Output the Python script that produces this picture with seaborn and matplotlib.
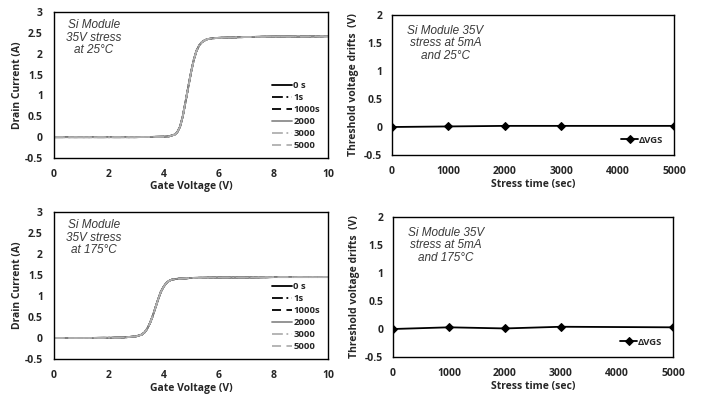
import numpy as np
import pandas as pd
import seaborn as sns
import matplotlib
matplotlib.use("Agg")
import matplotlib.pyplot as plt

sns.set_theme(style="white")
plt.rcParams['font.family'] = ['Open Sans', 'DejaVu Sans']

# ---- data ----
vg = [0, 1, 2, 3, 4, 4.2, 4.4, 4.5, 4.6, 4.7, 4.8, 4.9, 5.0, 5.1, 5.2, 5.3, 5.4, 5.5, 5.6, 5.8, 6.0, 7.0, 8.0, 9.0, 10.0]
id_25 = [0, 0, 0, 0, 0.01, 0.02, 0.06, 0.12, 0.25, 0.5, 0.85, 1.2, 1.55, 1.85, 2.07, 2.2, 2.28, 2.32, 2.35, 2.37, 2.38, 2.40, 2.41, 2.41, 2.42]
vg_175 = [0, 1, 2, 2.5, 3.0, 3.2, 3.3, 3.4, 3.5, 3.6, 3.7, 3.8, 3.9, 4.0, 4.1, 4.2, 4.3, 4.5, 4.8, 5.0, 6.0, 7.0, 8.0, 9.0, 10.0]
id_175 = [0, 0, 0.005, 0.01, 0.04, 0.08, 0.13, 0.22, 0.35, 0.52, 0.72, 0.92, 1.1, 1.22, 1.31, 1.36, 1.39, 1.41, 1.42, 1.43, 1.44, 1.44, 1.45, 1.45, 1.45]
series_labels = ['0 s', '1s', '1000s', '2000', '3000', '5000']

stress_t = [0, 1000, 2000, 3000, 5000]
dvgs_25 = [0, 0.01, 0.02, 0.02, 0.02]
dvgs_175 = [0, 0.03, 0.01, 0.04, 0.03]

styles = [
    dict(color='black', ls='-', lw=1.3),
    dict(color='black', ls=(0, (6, 2, 1, 2)), lw=1.3),
    dict(color='black', ls=(0, (5, 3)), lw=1.3),
    dict(color='#8c8c8c', ls='-', lw=1.3),
    dict(color='#b0b0b0', ls=(0, (6, 2, 1, 2)), lw=1.3),
    dict(color='#b0b0b0', ls=(0, (5, 3)), lw=1.3),
]

fig = plt.figure(figsize=(7.02, 3.99), dpi=100)
W, H = 702, 399

def add_ax(l, t, r, b):
    return fig.add_axes([l / W, 1 - b / H, (r - l) / W, (b - t) / H])

ax1 = add_ax(54, 12, 328, 158)
ax2 = add_ax(392, 15, 674, 155)
ax3 = add_ax(54, 212, 328, 359)
ax4 = add_ax(393, 217, 673, 357)

tick_fs = 7.5
lab_fs = 7.5
note_fs = 8.5

def style_ax(ax, ypad):
    for s in ax.spines.values():
        s.set_color('black')
        s.set_linewidth(1.0)
    ax.tick_params(axis='x', direction='in', length=3, width=1, color='black', labelsize=tick_fs, pad=8)
    ax.tick_params(axis='y', length=0, labelsize=tick_fs, pad=ypad)
    for lbl in ax.get_xticklabels() + ax.get_yticklabels():
        lbl.set_fontweight('bold')

def iv_panel(ax, x, y, note):
    df = pd.DataFrame({'Vg': x, 'Id': y})
    for lab, st in zip(series_labels, styles):
        sns.lineplot(data=df, x='Vg', y='Id', ax=ax, label=lab, color=st['color'],
                     linestyle=st['ls'], linewidth=st['lw'])
    ax.set_xlim(0, 10)
    ax.set_ylim(-0.5, 3)
    ax.set_xticks([0, 2, 4, 6, 8, 10])
    ax.set_yticks([-0.5, 0, 0.5, 1, 1.5, 2, 2.5, 3])
    ax.set_yticklabels(['-0.5', '0', '0.5', '1', '1.5', '2', '2.5', '3'])
    ax.set_xlabel('Gate Voltage (V)', fontsize=lab_fs, fontweight='bold', labelpad=1)
    ax.set_ylabel('Drain Current (A)', fontsize=lab_fs, fontweight='bold', labelpad=1)
    leg = ax.legend(loc='lower right', frameon=False, fontsize=6.8, handlelength=2.2,
                    handletextpad=0.1, labelspacing=0.32, borderaxespad=0.45)
    for t in leg.get_texts():
        t.set_fontweight('bold')
    ax.text(0.145, 0.95, note, transform=ax.transAxes, ha='center', va='top',
            fontsize=note_fs, style='italic', family='Liberation Sans', color='#3a3a3a',
            linespacing=1.05)
    style_ax(ax, 8)

def vth_panel(ax, y, note):
    df = pd.DataFrame({'t': stress_t, 'dv': y})
    sns.lineplot(data=df, x='t', y='dv', ax=ax, color='black', marker='D', markersize=4.5,
                 linewidth=1.3, label='ΔVGS', markeredgecolor='black')
    ax.set_xlim(0, 5000)
    ax.set_ylim(-0.5, 2)
    ax.set_xticks([0, 1000, 2000, 3000, 4000, 5000])
    ax.set_yticks([-0.5, 0, 0.5, 1, 1.5, 2])
    ax.set_yticklabels(['-0.5', '0', '0.5', '1', '1.5', '2'])
    ax.set_xlabel('Stress time (sec)', fontsize=lab_fs, fontweight='bold', labelpad=1)
    ax.set_ylabel('Threshold voltage drifts  (V)', fontsize=lab_fs, fontweight='bold', labelpad=4)
    leg = ax.legend(loc='lower right', frameon=False, fontsize=6.8, handlelength=1.8,
                    handletextpad=0.1, borderaxespad=0.7)
    for t in leg.get_texts():
        t.set_fontweight('bold')
    ax.text(0.19, 0.93, note, transform=ax.transAxes, ha='center', va='top',
            fontsize=note_fs, style='italic', family='Liberation Sans', color='#3a3a3a',
            linespacing=1.05)
    style_ax(ax, 7)

iv_panel(ax1, vg, id_25, 'Si Module\n35V stress\nat 25°C')
vth_panel(ax2, dvgs_25, 'Si Module 35V\nstress at 5mA\nand 25°C')
iv_panel(ax3, vg_175, id_175, 'Si Module\n35V stress\nat 175°C')
vth_panel(ax4, dvgs_175, 'Si Module 35V\nstress at 5mA\nand 175°C')

fig.savefig('out.png', dpi=100)
